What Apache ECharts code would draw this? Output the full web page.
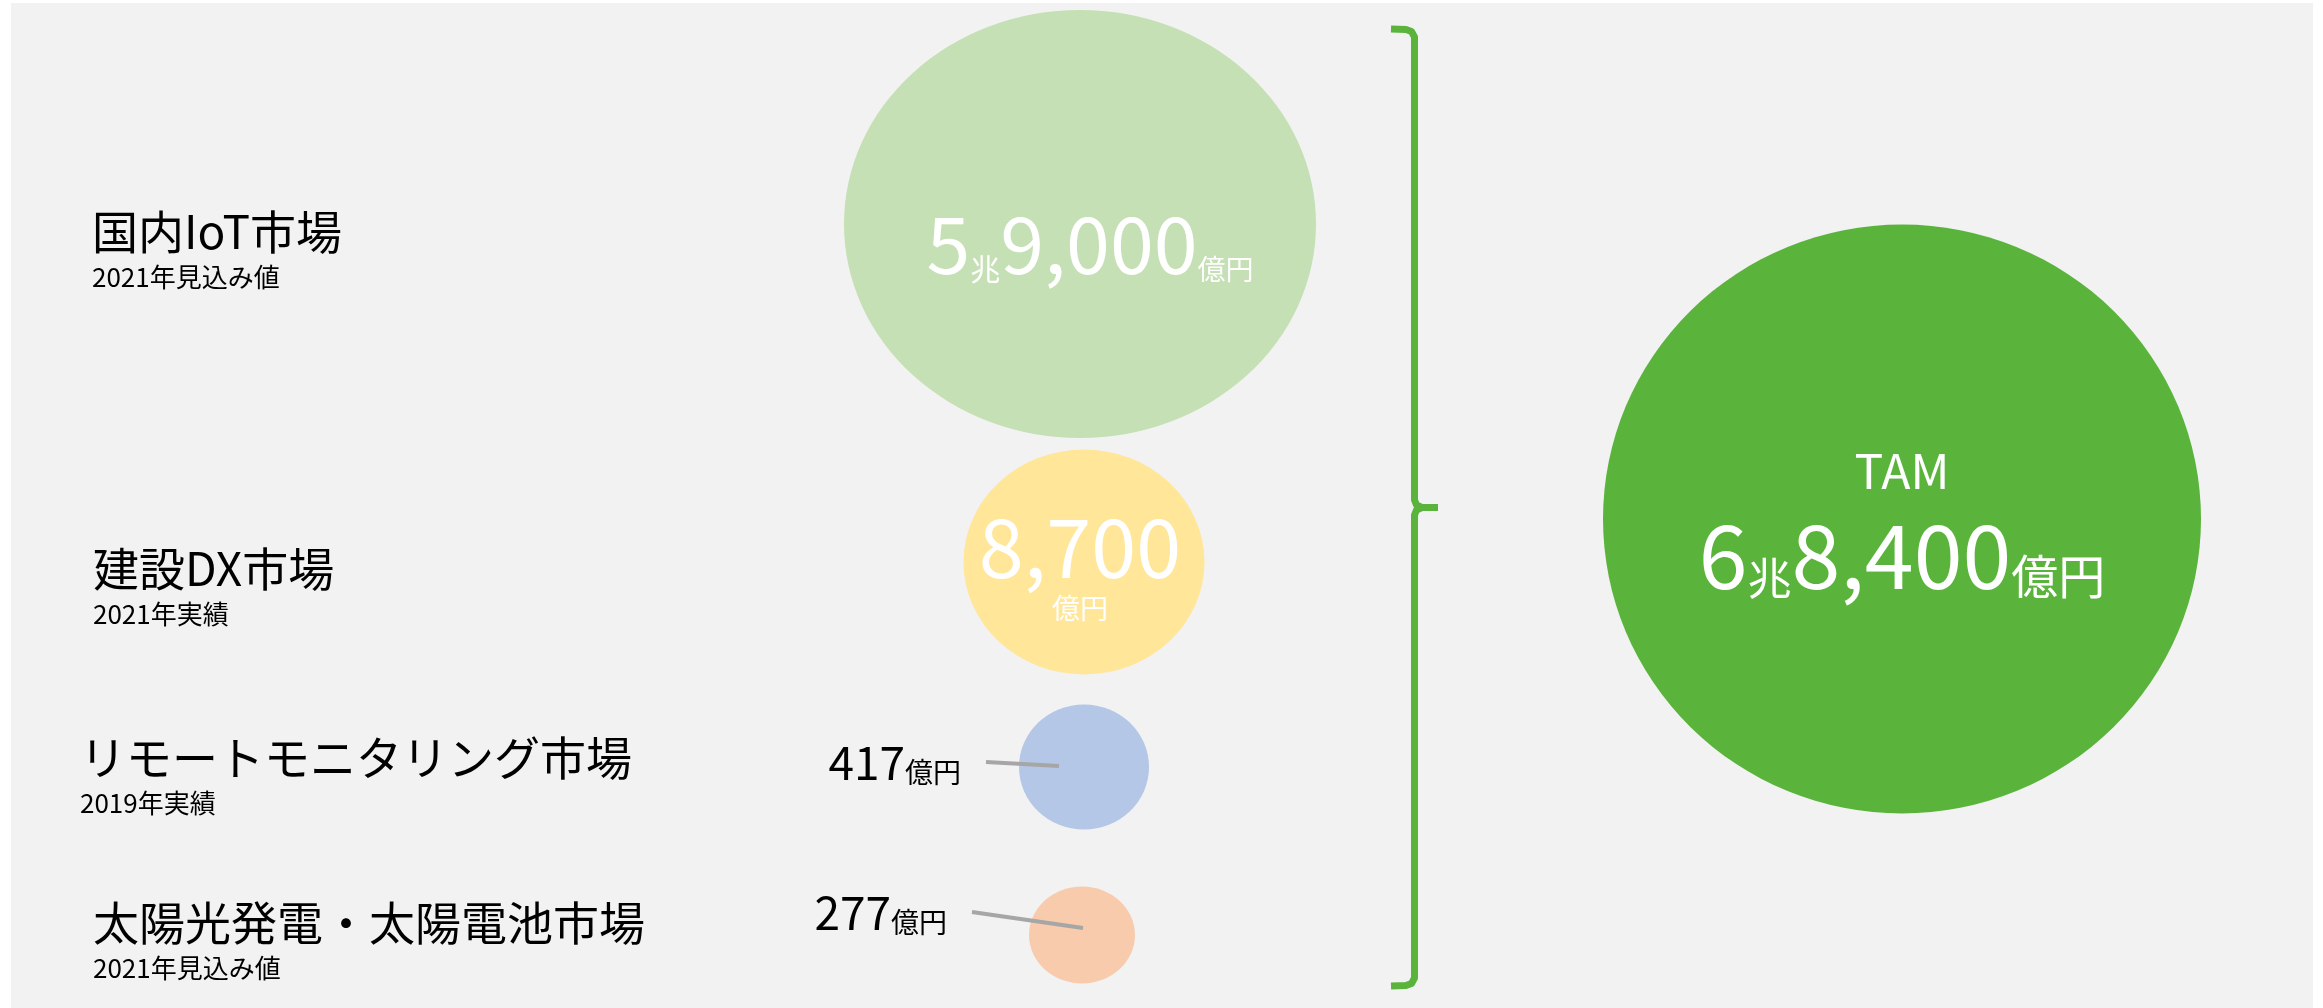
<!DOCTYPE html>
<html>
<head>
<meta charset="utf-8">
<script src="https://cdn.jsdelivr.net/npm/echarts@6/dist/echarts.min.js"></script>
<style>
html, body { margin: 0; padding: 0; background: #fff; }
#chart { width: 2323px; height: 1008px; }
</style>
</head>
<body>
<div id="chart"></div>
<script>
// 市場データ（単位：億円）
const marketNames = ['国内IoT市場', '建設DX市場', 'リモートモニタリング市場', '太陽光発電・太陽電池市場']
const marketNotes = ['2021年見込み値', '2021年実績', '2019年実績', '2021年見込み値']
const marketValues = [59000, 8700, 417, 277]
const tamName = 'TAM'
const tamValue = 68400

const FONT = "'Noto Sans CJK JP', 'Noto Sans', sans-serif"
const GREEN = '#5AB43C'

// バブルの配置と見た目（データとは別）
const rowLayout = [
	{ cx: 1080, cy: 224, size: [472, 428], color: '#C5E0B4', labelX: 92, labelShift: 25 },
	{ cx: 1084, cy: 562, size: [241, 225], color: '#FFE699', labelX: 93, labelShift: 24 },
	{ cx: 1084, cy: 767, size: [130, 125], color: '#B4C7E7', labelX: 80, labelShift: 8 },
	{ cx: 1082, cy: 935, size: [106, 97], color: '#F8CBAD', labelX: 93, labelShift: 5 }
]
const bubbleLabels = [
	{ position: 'inside', offset: [10, 20], stack: false, big: 79, cho: 30, unit: 28, color: '#fff' },
	{ position: 'inside', offset: [-4, 6], stack: true, big: 81, cho: 28, unit: 28, color: '#fff' },
	{ position: 'left', distance: 58, offset: [0, -4], stack: false, big: 46, cho: 28, unit: 28, color: '#000' },
	{ position: 'left', distance: 82, offset: [0, -22], stack: false, big: 46, cho: 28, unit: 28, color: '#000' }
]
// 引き出し線（バブル中心からの相対位置）
const leaderLines = [null, null, [-98, -5, -25, -1], [-110, -23, 1, -7]]
const tamLayout = { cx: 1902, cy: 519, size: [598, 589] }

function withComma (n) {
	return String(n).replace(/\B(?=(\d{3})+(?!\d))/g, ',')
}

// 59000 -> 5兆9,000億円
function okuText (v, stack) {
	const cho = Math.floor(v / 10000), rest = v % 10000
	let s = ''
	if (cho > 0) s += '{b|' + cho + '}{c|兆}'
	s += '{b|' + withComma(rest) + '}'
	s += stack ? '\n{u|億円}' : '{u|億円}'
	return s
}

// 小さい単位文字の行高（数字とベースラインをそろえる）
function unitLH (hb, fb, fs) {
	return Math.round(hb - 0.8 * fb + 0.94 * fs - 2)
}

function bubbleRich (cfg) {
	const base = { fontFamily: FONT, color: cfg.color, align: 'center' }
	const hb = cfg.big
	return {
		b: Object.assign({}, base, { fontSize: cfg.big, lineHeight: hb, verticalAlign: 'bottom' }),
		c: Object.assign({}, base, { fontSize: cfg.cho, lineHeight: unitLH(hb, cfg.big, cfg.cho), verticalAlign: 'bottom' }),
		u: cfg.stack
			? Object.assign({}, base, { fontSize: cfg.unit, lineHeight: 41 })
			: Object.assign({}, base, { fontSize: cfg.unit, lineHeight: unitLH(hb, cfg.big, cfg.unit), verticalAlign: 'bottom' })
	}
}

const grids = [], xAxes = [], yAxes = [], series = []

marketNames.forEach((name, i) => {
	const L = rowLayout[i], cfg = bubbleLabels[i]
	const left = L.cx - 50
	grids.push({ left: left, top: L.cy - 30, width: 100, height: 60 })
	xAxes.push({ type: 'category', gridIndex: i, data: ['market'], show: false })
	yAxes.push({
		type: 'category', gridIndex: i, data: [name],
		axisLine: { show: false }, axisTick: { show: false }, splitLine: { show: false },
		axisLabel: {
			align: 'left',
			margin: left - L.labelX,
			padding: [L.labelShift * 2, 0, 0, 0],
			formatter: v => '{t|' + v + '}\n{s|' + marketNotes[i] + '}',
			rich: {
				t: { fontFamily: FONT, fontSize: 46, lineHeight: 56, color: '#000' },
				s: { fontFamily: FONT, fontSize: 26, lineHeight: 34, color: '#000' }
			}
		}
	})
	const item = { value: ['market', name, marketValues[i]] }
	series.push({
		type: 'scatter', xAxisIndex: i, yAxisIndex: i, silent: true,
		symbol: 'circle', symbolSize: L.size,
		itemStyle: { color: L.color, opacity: 1 },
		label: {
			show: true,
			position: cfg.position,
			distance: cfg.distance || 0,
			offset: cfg.offset,
			formatter: p => okuText(p.value[2], cfg.stack),
			rich: bubbleRich(cfg)
		},
		data: [item]
	})
	if (leaderLines[i]) {
		const o = leaderLines[i]
		series.push({
			type: 'custom', xAxisIndex: i, yAxisIndex: i, silent: true, z: 3,
			renderItem: (params, api) => {
				const c = api.coord([api.value(0), api.value(1)])
				return {
					type: 'line',
					shape: { x1: c[0] + o[0], y1: c[1] + o[1], x2: c[0] + o[2], y2: c[1] + o[3] },
					style: { stroke: '#A6A6A6', lineWidth: 4 }
				}
			},
			data: [item]
		})
	}
})

// TAM
const ti = marketNames.length
grids.push({ left: tamLayout.cx - 50, top: tamLayout.cy - 30, width: 100, height: 60 })
xAxes.push({ type: 'category', gridIndex: ti, data: ['tam'], show: false })
yAxes.push({ type: 'category', gridIndex: ti, data: [tamName], show: false })
series.push({
	type: 'scatter', xAxisIndex: ti, yAxisIndex: ti, silent: true,
	symbol: 'circle', symbolSize: tamLayout.size,
	itemStyle: { color: GREEN, opacity: 1 },
	label: {
		show: true, position: 'inside',
		formatter: p => '{t|' + p.value[1] + '}\n' + okuText(p.value[2], false),
		rich: {
			t: { fontFamily: FONT, fontSize: 48, lineHeight: 66, color: '#fff', align: 'center' },
			b: { fontFamily: FONT, fontSize: 88, lineHeight: 96, color: '#fff', align: 'center', verticalAlign: 'bottom' },
			c: { fontFamily: FONT, fontSize: 44, lineHeight: unitLH(96, 88, 44), color: '#fff', align: 'center', verticalAlign: 'bottom' },
			u: { fontFamily: FONT, fontSize: 47, lineHeight: unitLH(96, 88, 47), color: '#fff', align: 'center', verticalAlign: 'bottom' }
		}
	},
	data: [{ value: ['tam', tamName, tamValue] }]
})

// 中かっこ
const braceStyle = { stroke: GREEN, lineWidth: 7, fill: null, lineJoin: 'round' }

const myChart = echarts.init(document.getElementById('chart'))
myChart.setOption({
	animation: false,
	backgroundColor: '#ffffff',
	grid: grids,
	xAxis: xAxes,
	yAxis: yAxes,
	series: series,
	graphic: [
		{ type: 'rect', z: -10, shape: { x: 11, y: 3, width: 2302, height: 1005 }, style: { fill: '#F2F2F2' } },
		{
			type: 'polyline', z: 5,
			shape: { points: [[1391, 29], [1406, 29.5], [1411.5, 31.5], [1414.5, 37], [1414.5, 500], [1416.5, 505], [1422, 507.5], [1438, 507.5]] },
			style: braceStyle
		},
		{
			type: 'polyline', z: 5,
			shape: { points: [[1438, 507.5], [1422, 507.5], [1416.5, 510], [1414.5, 515], [1414.5, 978], [1411.5, 983.5], [1406, 985.5], [1391, 986]] },
			style: braceStyle
		}
	]
})
</script>
</body>
</html>
